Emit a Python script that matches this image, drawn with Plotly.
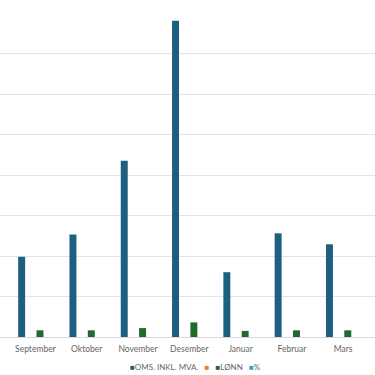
import plotly.graph_objects as go

months = ["September", "Oktober", "November", "Desember", "Januar", "Februar", "Mars"]
oms = [198000, 253000, 435000, 781000, 160000, 256000, 229000]
blank = [0, 0, 0, 0, 0, 0, 0]
lonn = [16500, 16500, 22000, 36000, 15000, 16500, 16500]
pct = [0, 0, 0, 0, 0, 0, 0]

series_names = ["OMS. INKL. MVA.", "", "LØNN", "%"]
colors = ["#1d5f80", "#e07b39", "#206b2c", "#3a9fd0"]

fig = go.Figure()
for name, vals, col in zip(series_names, [oms, blank, lonn, pct], colors):
    fig.add_trace(go.Bar(x=months, y=vals, name=name, marker=dict(color=col, line=dict(width=0)),
                         showlegend=False))

legend_html = "   ".join(
    f"<span style='color:{c}'>■</span>{n}" for n, c in zip(series_names, colors)
)
fig.add_annotation(text=legend_html, xref="paper", yref="paper", x=0.52, y=-0.093,
                   xanchor="center", yanchor="middle", showarrow=False,
                   font=dict(family="Lato", size=8, color="#666666"))

fig.update_layout(
    width=375, height=375,
    margin=dict(l=0, r=0, t=13, b=38),
    paper_bgcolor="white", plot_bgcolor="white",
    barmode="group", bargap=0.285, bargroupgap=0.24,
    showlegend=False,
    xaxis=dict(range=[-0.69, 6.62], showgrid=False, showline=False, ticks="",
               ticklabelstandoff=5,
               tickfont=dict(family="Lato", size=8.5, color="#666666")),
    yaxis=dict(range=[0, 800000], dtick=100000, showticklabels=False, showgrid=True,
               gridcolor="#e3e3e3", gridwidth=1, zeroline=True, zerolinecolor="#d9d9d9",
               zerolinewidth=1),
)

fig.write_html("out.html", config={"displayModeBar": False},
               post_script="document.body.style.margin='0';document.documentElement.style.overflow='hidden';")
